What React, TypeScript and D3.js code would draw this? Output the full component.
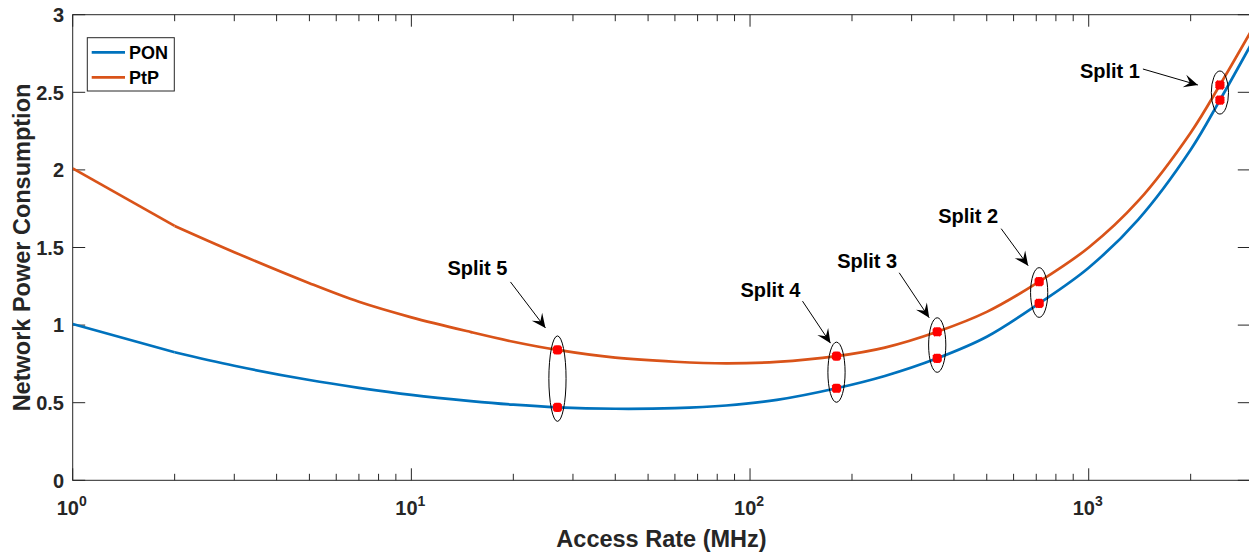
import React from "react";
import * as d3 from "d3";

// Access rate samples (MHz) and the network power consumption of each architecture
const rates = [1, 2, 3, 5, 7, 10, 15, 20, 27, 40, 60, 85, 120, 180, 250, 357, 500, 714, 1000, 1400, 2000, 2440, 3000];
const ponPower = [1.007, 0.825, 0.738, 0.646, 0.596, 0.55, 0.51, 0.487, 0.47, 0.461, 0.465, 0.482, 0.518, 0.593, 0.672, 0.786, 0.925, 1.14, 1.37, 1.68, 2.13, 2.45, 2.8];
const ptpPower = [2.01, 1.639, 1.47, 1.27, 1.15, 1.05, 0.955, 0.893, 0.84, 0.79, 0.764, 0.754, 0.763, 0.8, 0.855, 0.957, 1.085, 1.28, 1.5, 1.8, 2.24, 2.547, 2.885];

// Functional split operating points
const splitNames = ["Split 1", "Split 2", "Split 3", "Split 4", "Split 5"];
const splitRates = [2440, 714, 357, 180, 27];
const splitPon = [2.45, 1.14, 0.786, 0.593, 0.47];
const splitPtp = [2.547, 1.28, 0.957, 0.8, 0.84];

const yTicks = [0, 0.5, 1, 1.5, 2, 2.5, 3];
const xDecades = [0, 1, 2, 3];
const seriesNames = ["PON", "PtP"];
const seriesColors = ["#0072BD", "#D95319"];

// Label/arrow placement for each split callout (pixel offsets from the ellipse top)
const calloutLayout = [
  { tipDx: -22, tipDy: 14, tailDx: -77, tailDy: -2, textDx: -110, textDy: 7 },
  { tipDx: -11, tipDy: -2, tailDx: -38, tailDy: -39, textDx: -71, textDy: -45 },
  { tipDx: -8, tipDy: 0, tailDx: -38, tailDy: -45, textDx: -70, textDy: -50 },
  { tipDx: -6, tipDy: 1, tailDx: -34, tailDy: -41, textDx: -66, textDy: -45 },
  { tipDx: -12, tipDy: -8, tailDx: -47, tailDy: -54, textDx: -80, textDy: -61 },
];

const W = 1249;
const H = 555;
const left = 72.7;
const right = 1250.3;
const top = 14.7;
const bottom = 480.3;
const axisColor = "#262626";
const font = "'Liberation Sans', Arial, Helvetica, sans-serif";

export default function App() {
  const x = d3.scaleLog().domain([1, 3000]).range([left, right]);
  const y = d3.scaleLinear().domain([0, 3]).range([bottom, top]);

  const straight = d3
    .line<[number, number]>()
    .x((d) => x(d[0]))
    .y((d) => y(d[1]));
  const smooth = d3
    .line<[number, number]>()
    .x((d) => x(d[0]))
    .y((d) => y(d[1]))
    .curve(d3.curveCatmullRom.alpha(0.5));

  const series = [ponPower, ptpPower].map((vals) =>
    rates.map((r, i) => [r, vals[i]] as [number, number])
  );

  // minor ticks of the log axis
  const minor: number[] = [];
  xDecades.forEach((k) => {
    for (let m = 2; m <= 9; m++) {
      const v = m * Math.pow(10, k);
      if (v < 3000) minor.push(v);
    }
  });

  const star = (cx: number, cy: number, key: string) => {
    const r = 4.6;
    const k = r * 0.8;
    const p = `M${cx - r},${cy}L${cx + r},${cy}M${cx},${cy - r}L${cx},${cy + r}M${cx - k},${cy - k}L${cx + k},${cy + k}M${cx - k},${cy + k}L${cx + k},${cy - k}`;
    return <path key={key} d={p} stroke="#FF0000" strokeWidth={3.4} fill="none" />;
  };

  const arrowHead = (x1: number, y1: number, x2: number, y2: number) => {
    const dx = x2 - x1;
    const dy = y2 - y1;
    const len = Math.hypot(dx, dy);
    const ux = dx / len;
    const uy = dy / len;
    const L = 14;
    const Wd = 6.5;
    const bx = x2 - ux * L;
    const by = y2 - uy * L;
    const nx = x2 - ux * L * 0.6;
    const ny = y2 - uy * L * 0.6;
    return `M${x2},${y2}L${bx - uy * Wd},${by + ux * Wd}L${nx},${ny}L${bx + uy * Wd},${by - ux * Wd}Z`;
  };

  return (
    <svg
      width={W}
      height={H}
      style={{ position: "absolute", left: 0, top: 0, background: "#fff" }}
      fontFamily={font}
    >
      <defs>
        <clipPath id="plotClip">
          <rect x={left} y={top} width={right - left} height={bottom - top} />
        </clipPath>
      </defs>

      {/* axes box */}
      <rect x={left} y={top} width={right - left} height={bottom - top} fill="none" stroke={axisColor} strokeWidth={1} />

      {/* y ticks, left and right */}
      {yTicks.map((t) => (
        <g key={"yt" + t}>
          <line x1={left} x2={left + 12.5} y1={y(t)} y2={y(t)} stroke={axisColor} />
          <line x1={right} x2={right - 12.5} y1={y(t)} y2={y(t)} stroke={axisColor} />
          <text x={64} y={y(t)} dy="0.36em" textAnchor="end" fontSize={20} fontWeight="bold" fill={axisColor}>
            {String(t)}
          </text>
        </g>
      ))}

      {/* x ticks, bottom and top */}
      {xDecades.map((k) => {
        const px = x(Math.pow(10, k));
        return (
          <g key={"xt" + k}>
            <line x1={px} x2={px} y1={bottom} y2={bottom - 12} stroke={axisColor} />
            <line x1={px} x2={px} y1={top} y2={top + 12} stroke={axisColor} />
            <text x={px - 1} y={514.5} textAnchor="middle" fontSize={20} fontWeight="bold" fill={axisColor}>
              10
              <tspan dy={-9} fontSize={14}>
                {String(k)}
              </tspan>
            </text>
          </g>
        );
      })}
      {minor.map((v) => (
        <g key={"mt" + v}>
          <line x1={x(v)} x2={x(v)} y1={bottom} y2={bottom - 6.5} stroke={axisColor} />
          <line x1={x(v)} x2={x(v)} y1={top} y2={top + 6.5} stroke={axisColor} />
        </g>
      ))}

      {/* axis titles */}
      <text x={(left + right) / 2} y={547} textAnchor="middle" fontSize={23.5} fontWeight="bold" fill={axisColor}>
        Access Rate (MHz)
      </text>
      <text
        transform={`translate(29.5, ${(top + bottom) / 2}) rotate(-90)`}
        textAnchor="middle"
        fontSize={23.5}
        fontWeight="bold"
        fill={axisColor}
      >
        Network Power Consumption
      </text>

      {/* curves */}
      <g clipPath="url(#plotClip)">
        {series.map((s, i) => (
          <g key={seriesNames[i]}>
            <path d={straight(s.slice(0, 2)) || ""} fill="none" stroke={seriesColors[i]} strokeWidth={2.7} />
            <path d={smooth(s.slice(1)) || ""} fill="none" stroke={seriesColors[i]} strokeWidth={2.7} />
          </g>
        ))}
      </g>

      {/* split callouts */}
      {splitNames.map((name, i) => {
        const cx = x(splitRates[i]);
        const yA = y(splitPtp[i]);
        const yB = y(splitPon[i]);
        const cy = (yA + yB) / 2;
        const ry = Math.abs(yB - yA) / 2 + 14;
        const rx = 8.6;
        const topY = cy - ry;
        const L = calloutLayout[i];
        const tipX = cx + L.tipDx;
        const tipY = topY + L.tipDy;
        const tailX = cx + L.tailDx;
        const tailY = topY + L.tailDy;
        return (
          <g key={name}>
            <ellipse cx={cx} cy={cy} rx={rx} ry={ry} fill="none" stroke="#000" strokeWidth={1} />
            {star(cx, yA, name + "a")}
            {star(cx, yB, name + "b")}
            <line x1={tailX} y1={tailY} x2={tipX} y2={tipY} stroke="#000" strokeWidth={1} />
            <path d={arrowHead(tailX, tailY, tipX, tipY)} fill="#000" />
            <text x={cx + L.textDx} y={topY + L.textDy} textAnchor="middle" fontSize={20} fontWeight="bold" fill="#000">
              {name}
            </text>
          </g>
        );
      })}

      {/* legend */}
      <rect x={87.3} y={37.7} width={87} height={53.3} fill="#fff" stroke={axisColor} strokeWidth={1} />
      {seriesNames.map((n, i) => (
        <g key={"lg" + n}>
          <line x1={91.7} x2={125} y1={52.3 + i * 25} y2={52.3 + i * 25} stroke={seriesColors[i]} strokeWidth={2.7} />
          <text x={129} y={52.3 + i * 25} dy="0.36em" fontSize={18} fontWeight="bold" fill="#000">
            {n}
          </text>
        </g>
      ))}
    </svg>
  );
}
